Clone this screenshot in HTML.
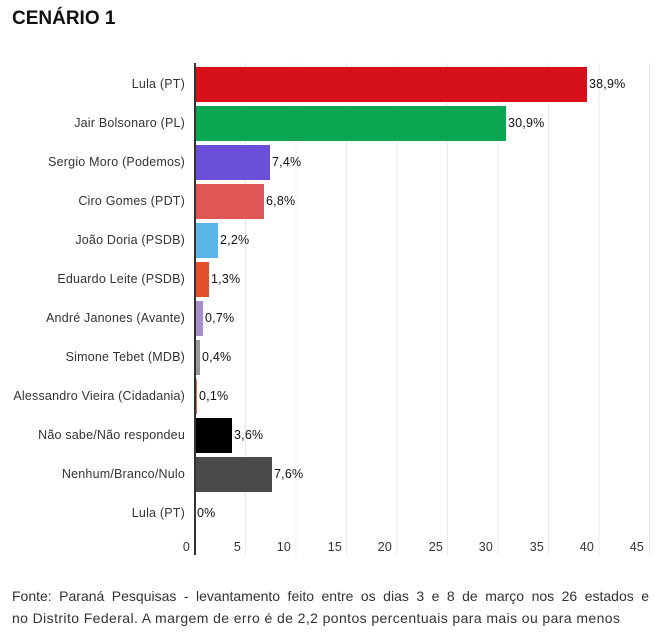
<!DOCTYPE html>
<html><head><meta charset="utf-8"><style>
body{margin:0;background:#fff;width:660px;height:635px;overflow:hidden;font-family:"Liberation Sans",sans-serif;}
h1{position:absolute;left:12px;top:8px;margin:0;font-size:19px;font-weight:bold;color:#111;}
.foot{position:absolute;left:12px;width:637px;font-size:14px;line-height:22px;color:#333;white-space:nowrap;}
.l1{top:585px;text-align:justify;text-align-last:justify;}
.l2{top:607px;letter-spacing:0.4px;}
</style></head><body>
<h1>CENÁRIO 1</h1>
<svg width="660" height="580" style="position:absolute;left:0;top:0" font-family="Liberation Sans, sans-serif" font-size="12.5" letter-spacing="0.2">
<g stroke="#ebebeb" stroke-width="1">
<line x1="245.5" y1="63" x2="245.5" y2="555"/><line x1="296" y1="63" x2="296" y2="555"/><line x1="346.5" y1="63" x2="346.5" y2="555"/><line x1="397" y1="63" x2="397" y2="555"/><line x1="447.5" y1="63" x2="447.5" y2="555"/><line x1="498" y1="63" x2="498" y2="555"/><line x1="548.5" y1="63" x2="548.5" y2="555"/><line x1="599" y1="63" x2="599" y2="555"/><line x1="649.5" y1="63" x2="649.5" y2="555"/>
</g>
<g>
<rect x="195" y="67" width="392" height="35" fill="#d7111a"/>
<rect x="195" y="106" width="311" height="35" fill="#0ca552"/>
<rect x="195" y="145" width="75" height="35" fill="#6b4fd8"/>
<rect x="195" y="184" width="69" height="35" fill="#e05555"/>
<rect x="195" y="223" width="23" height="35" fill="#5ab4e5"/>
<rect x="195" y="262" width="14" height="35" fill="#e5502a"/>
<rect x="195" y="301" width="8" height="35" fill="#a98ccc"/>
<rect x="195" y="340" width="5" height="35" fill="#999"/>
<rect x="195" y="379" width="2" height="35" fill="#e07040"/>
<rect x="195" y="418" width="37" height="35" fill="#000"/>
<rect x="195" y="457" width="77" height="35" fill="#4a4a4a"/>
</g>
<line x1="195" y1="63" x2="195" y2="555" stroke="#333" stroke-width="2"/>
<g text-anchor="end" fill="#333">
<text x="185" y="88">Lula (PT)</text>
<text x="185" y="127">Jair Bolsonaro (PL)</text>
<text x="185" y="166">Sergio Moro (Podemos)</text>
<text x="185" y="205">Ciro Gomes (PDT)</text>
<text x="185" y="244">João Doria (PSDB)</text>
<text x="185" y="283">Eduardo Leite (PSDB)</text>
<text x="185" y="322">André Janones (Avante)</text>
<text x="185" y="361">Simone Tebet (MDB)</text>
<text x="185" y="400">Alessandro Vieira (Cidadania)</text>
<text x="185" y="439">Não sabe/Não respondeu</text>
<text x="185" y="478">Nenhum/Branco/Nulo</text>
<text x="185" y="517">Lula (PT)</text>
</g>
<g fill="#111">
<text x="589" y="88">38,9%</text>
<text x="508" y="127">30,9%</text>
<text x="272" y="166">7,4%</text>
<text x="266" y="205">6,8%</text>
<text x="220" y="244">2,2%</text>
<text x="211" y="283">1,3%</text>
<text x="205" y="322">0,7%</text>
<text x="202" y="361">0,4%</text>
<text x="199" y="400">0,1%</text>
<text x="234" y="439">3,6%</text>
<text x="274" y="478">7,6%</text>
<text x="197" y="517">0%</text>
</g>
<g text-anchor="end" fill="#333">
<text x="190" y="551">0</text><text x="241" y="551">5</text><text x="291" y="551">10</text><text x="342" y="551">15</text><text x="392" y="551">20</text><text x="443" y="551">25</text><text x="493" y="551">30</text><text x="544" y="551">35</text><text x="594" y="551">40</text><text x="644" y="551">45</text>
</g>
</svg>
<div class="foot l1">Fonte: Paraná Pesquisas - levantamento feito entre os dias 3 e 8 de março nos 26 estados e</div>
<div class="foot l2">no Distrito Federal. A margem de erro é de 2,2 pontos percentuais para mais ou para menos</div>
</body></html>
